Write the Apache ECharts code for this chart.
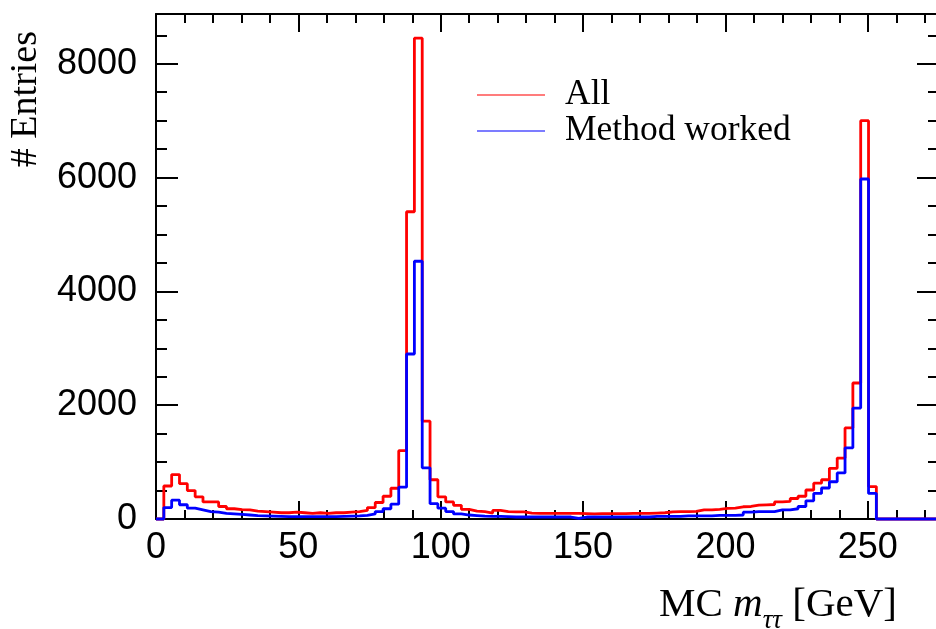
<!DOCTYPE html>
<html>
<head>
<meta charset="utf-8">
<script src="https://cdn.jsdelivr.net/npm/echarts@6/dist/echarts.min.js"></script>
<style>
  html, body { margin: 0; padding: 0; background: #fff; }
  #chart { width: 936px; height: 629px; }
</style>
</head>
<body>
<div id="chart"></div>
<script>
// histogram binning: 100 bins of 2.75 GeV from 0 to 275
const binWidth = 2.75;
const xMax = 275;
const yMax = 8875;
const xMajorStep = 50;
const xMinorStep = 10;
const yMajorStep = 2000;
const yMinorStep = 500;
const seriesNames = ['All', 'Method worked'];

// entries per bin, "All"
const allCounts = [
  0, 580, 780, 620, 500, 390, 300, 300, 220, 180,
  165, 160, 140, 130, 120, 110, 110, 120, 110, 100,
  110, 100, 110, 110, 120, 130, 150, 200, 290, 400,
  540, 1200, 5400, 8450, 1720, 690, 390, 300, 240, 170,
  140, 130, 105, 150, 130, 125, 125, 105, 100, 100,
  100, 100, 100, 100, 95, 90, 95, 95, 95, 95,
  100, 100, 100, 105, 110, 125, 130, 130, 135, 160,
  160, 170, 185, 190, 215, 220, 245, 250, 255, 300,
  310, 360, 400, 510, 630, 690, 890, 1070, 1600, 2390,
  7000, 570, 0, 0, 0, 0, 0, 0, 0, 0
];

// entries per bin, "Method worked"
const workedCounts = [
  0, 200, 330, 250, 190, 160, 130, 120, 100, 90,
  80, 70, 60, 55, 50, 45, 40, 40, 40, 40,
  40, 40, 40, 45, 50, 55, 65, 90, 130, 180,
  260, 560, 2900, 4530, 900, 270, 190, 130, 90, 70,
  60, 50, 45, 45, 40, 35, 35, 35, 35, 35,
  35, 35, 35, 10, 35, 35, 35, 35, 35, 35,
  35, 35, 35, 45, 45, 45, 45, 55, 55, 55,
  55, 65, 65, 65, 70, 120, 130, 130, 130, 160,
  160, 180, 220, 320, 450, 545, 655, 810, 1250, 1950,
  5975, 450, 0, 0, 0, 0, 0, 0, 0, 0
];

function stepData(counts) {
  const pts = counts.map((c, i) => [i * binWidth, c]);
  pts.push([counts.length * binWidth, counts[counts.length - 1]]);
  return pts;
}

const chart = echarts.init(document.getElementById('chart'));

const tickStyle = { color: '#000', width: 2 };

function axisFor(position, max, interval, tickLen, withLine, withLabels, margin) {
  return {
    type: 'value',
    position: position,
    min: 0,
    max: max,
    interval: interval,
    axisLine: { show: withLine, onZero: false, lineStyle: { color: '#000', width: 2 } },
    axisTick: { show: true, inside: true, length: tickLen, lineStyle: tickStyle },
    axisLabel: {
      show: withLabels,
      showMaxLabel: false,
      margin: margin,
      color: '#000',
      fontSize: 36,
      fontFamily: 'Liberation Sans',
      formatter: v => String(v)
    },
    splitLine: { show: false }
  };
}

const xMain = axisFor('bottom', xMax, xMajorStep, 18, true, true, 11);
xMain.name = '{r|MC }{i|m}{s|ττ}{r| [GeV]}';
xMain.nameLocation = 'end';
xMain.nameGap = 0;
xMain.nameTextStyle = {
  align: 'right',
  verticalAlign: 'top',
  padding: [58, 42, 0, 0],
  rich: {
    r: { fontFamily: 'Liberation Serif', fontSize: 41, color: '#000' },
    i: { fontFamily: 'Liberation Serif', fontSize: 41, fontStyle: 'italic', color: '#000' },
    s: { fontFamily: 'Liberation Serif', fontSize: 27, fontStyle: 'italic', color: '#000', padding: [30, 0, 0, 0] }
  }
};

const yMain = axisFor('left', yMax, yMajorStep, 22, true, true, 19);
yMain.name = '# Entries';
yMain.nameLocation = 'end';
yMain.nameRotate = 90;
yMain.nameGap = -17;
yMain.nameTextStyle = {
  align: 'right',
  verticalAlign: 'bottom',
  padding: [0, 0, 111, 0],
  fontFamily: 'Liberation Serif',
  fontSize: 38,
  color: '#000'
};

const option = {
  animation: false,
  backgroundColor: '#fff',
  grid: { left: 156, right: -3, top: 14, bottom: 110, outerBoundsMode: 'none' },
  legend: {
    orient: 'vertical',
    left: 472,
    top: 72,
    icon: 'rect',
    itemWidth: 68,
    itemHeight: 1.5,
    itemGap: 0,
    data: [
      { name: seriesNames[0], itemStyle: { color: '#ff5050' } },
      { name: seriesNames[1], itemStyle: { color: '#5050ff' } }
    ],
    textStyle: {
      fontFamily: 'Liberation Serif',
      fontSize: 35.5,
      lineHeight: 35,
      color: '#000',
      padding: [0, 0, 0, 15]
    }
  },
  xAxis: [
    xMain,
    axisFor('bottom', xMax, xMinorStep, 9, false, false, 12),
    axisFor('top', xMax, xMajorStep, 18, true, false, 12),
    axisFor('top', xMax, xMinorStep, 9, false, false, 12)
  ],
  yAxis: [
    yMain,
    axisFor('left', yMax, yMinorStep, 11, false, false, 19),
    axisFor('right', yMax, yMajorStep, 22, true, false, 19),
    axisFor('right', yMax, yMinorStep, 11, false, false, 19)
  ],
  series: [
    {
      name: seriesNames[0],
      type: 'line',
      step: 'end',
      symbol: 'none',
      clip: false,
      color: '#ff0000',
      lineStyle: { color: '#ff0000', width: 2.8 },
      data: stepData(allCounts)
    },
    {
      name: seriesNames[1],
      type: 'line',
      step: 'end',
      symbol: 'none',
      clip: false,
      color: '#0000ff',
      lineStyle: { color: '#0000ff', width: 2.8 },
      data: stepData(workedCounts)
    }
  ]
};

chart.setOption(option);
</script>
</body>
</html>
